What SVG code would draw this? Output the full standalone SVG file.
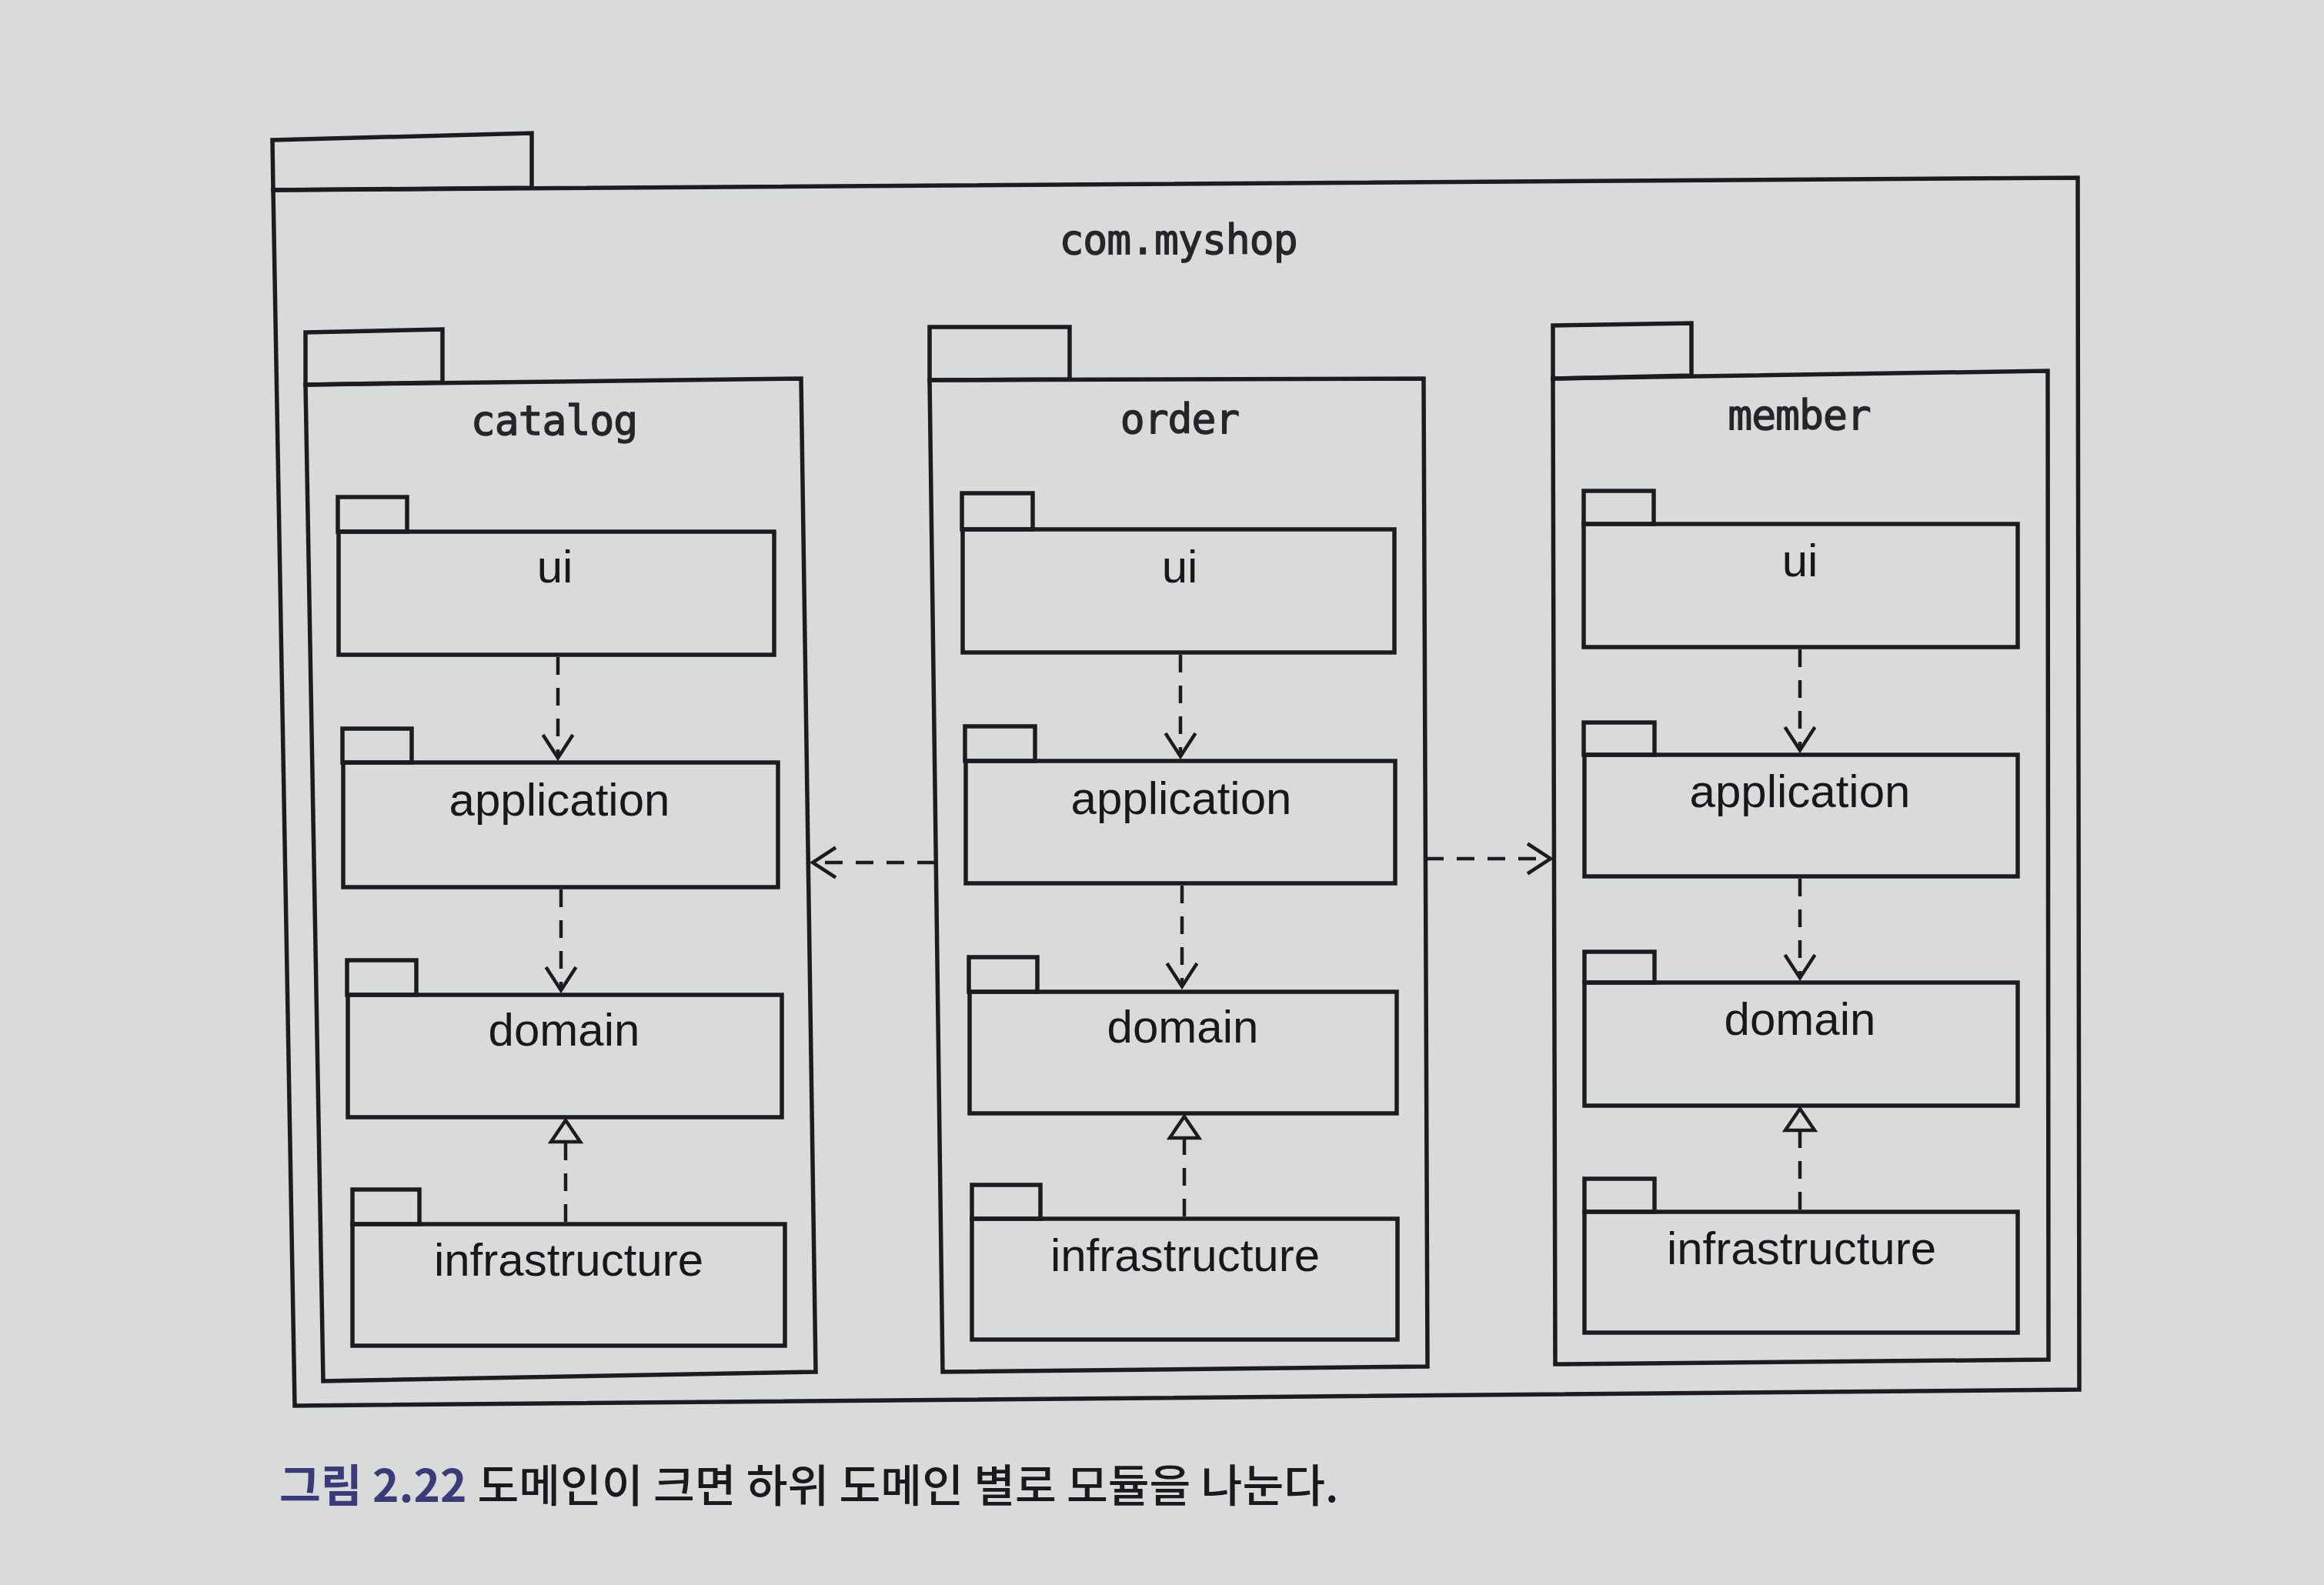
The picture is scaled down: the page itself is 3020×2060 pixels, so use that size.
<svg xmlns="http://www.w3.org/2000/svg" width="3020" height="2060" viewBox="0 0 3020 2060">
<defs>
<style>
.bg{fill:#d9dbda}
.pk{fill:none;stroke:#1c1c20;stroke-width:5.5;stroke-linejoin:miter}
.mono{font-family:"DejaVu Sans Mono","Liberation Mono",monospace;font-size:53px;letter-spacing:-1px;fill:#26262a;stroke:#26262a;stroke-width:1.3px;text-anchor:middle}
.lbl{font-family:"Liberation Sans",Arial,sans-serif;font-size:60px;fill:#18181c;text-anchor:middle}
.dep{fill:none;stroke:#1c1c20;stroke-width:4.5;stroke-dasharray:23 17}
.cap{font-family:"Noto Sans CJK KR","Noto Sans",sans-serif;font-size:58.5px}
</style>
<marker id="open" markerUnits="userSpaceOnUse" markerWidth="50" markerHeight="50" viewBox="-35 -25 40 50" refX="0" refY="0" orient="auto">
<path d="M-30,-19.5 L0,0 L-30,19.5" fill="none" stroke="#1c1c20" stroke-width="4.5"/>
</marker>
<marker id="tri" markerUnits="userSpaceOnUse" markerWidth="50" markerHeight="50" viewBox="-35 -25 40 50" refX="0" refY="0" orient="auto">
<path d="M0,0 L-28,-19 L-28,19 Z" fill="#d9dbda" stroke="#1c1c20" stroke-width="4.5" stroke-linejoin="miter"/>
</marker>
</defs>
<rect class="bg" x="0" y="0" width="3020" height="2060"/>

<g id="com.myshop">
<path class="pk" d="M354,182 L691,173 L691,244 L355,247 Z"/>
<path class="pk" d="M355,247 L2700,231 L2702,1806 L383,1827 Z"/>
<text class="mono" x="1531" y="330">com.myshop</text>
</g>

<g id="catalog">
<path class="pk" d="M397,432 L575,428 L575,497 L397,500 Z"/>
<path class="pk" d="M397,500 L1041,492 L1060,1783 L420,1795 Z"/>
<text class="mono" x="720" y="565">catalog</text>
</g>
<g id="order">
<path class="pk" d="M1208,425 L1390,425 L1390,493 L1208,494 Z"/>
<path class="pk" d="M1208,494 L1850,492 L1855,1776 L1225,1783 Z"/>
<text class="mono" x="1533" y="563">order</text>
</g>
<g id="member">
<path class="pk" d="M2018,423 L2198,420 L2198,488 L2018,492 Z"/>
<path class="pk" d="M2018,492 L2661,482 L2662,1767 L2021,1773 Z"/>
<text class="mono" x="2338" y="558">member</text>
</g>

<g id="catalog.ui">
<rect class="pk" x="439" y="646" width="90" height="45"/>
<rect class="pk" x="440" y="691" width="566" height="160"/>
<text class="lbl" x="721" y="757">ui</text>
</g>
<g id="catalog.application">
<rect class="pk" x="445" y="947" width="90" height="44"/>
<rect class="pk" x="446" y="991" width="565" height="162"/>
<text class="lbl" x="727" y="1060">application</text>
</g>
<g id="catalog.domain">
<rect class="pk" x="451" y="1248" width="90" height="45"/>
<rect class="pk" x="452" y="1293" width="564" height="159"/>
<text class="lbl" x="733" y="1359">domain</text>
</g>
<g id="catalog.infrastructure">
<rect class="pk" x="458" y="1546" width="87" height="45"/>
<rect class="pk" x="458" y="1591" width="562" height="158"/>
<text class="lbl" x="739" y="1658">infrastructure</text>
</g>

<g id="order.ui">
<rect class="pk" x="1250" y="641" width="92" height="47"/>
<rect class="pk" x="1251" y="688" width="561" height="160"/>
<text class="lbl" x="1533" y="757">ui</text>
</g>
<g id="order.application">
<rect class="pk" x="1254" y="944" width="91" height="45"/>
<rect class="pk" x="1255" y="989" width="558" height="159"/>
<text class="lbl" x="1535" y="1058">application</text>
</g>
<g id="order.domain">
<rect class="pk" x="1259" y="1244" width="89" height="45"/>
<rect class="pk" x="1260" y="1289" width="555" height="158"/>
<text class="lbl" x="1537" y="1355">domain</text>
</g>
<g id="order.infrastructure">
<rect class="pk" x="1263" y="1540" width="89" height="44"/>
<rect class="pk" x="1263" y="1584" width="553" height="157"/>
<text class="lbl" x="1540" y="1652">infrastructure</text>
</g>

<g id="member.ui">
<rect class="pk" x="2058" y="638" width="91" height="43"/>
<rect class="pk" x="2058" y="681" width="564" height="160"/>
<text class="lbl" x="2339" y="749">ui</text>
</g>
<g id="member.application">
<rect class="pk" x="2058" y="939" width="92" height="42"/>
<rect class="pk" x="2059" y="981" width="563" height="158"/>
<text class="lbl" x="2339" y="1049">application</text>
</g>
<g id="member.domain">
<rect class="pk" x="2059" y="1237" width="91" height="40"/>
<rect class="pk" x="2059" y="1277" width="563" height="160"/>
<text class="lbl" x="2339" y="1345">domain</text>
</g>
<g id="member.infrastructure">
<rect class="pk" x="2059" y="1532" width="91" height="43"/>
<rect class="pk" x="2059" y="1575" width="563" height="157"/>
<text class="lbl" x="2341" y="1643">infrastructure</text>
</g>

<g id="connectors">
<path class="dep" d="M725,854 L725,985" marker-end="url(#open)"/>
<path class="dep" d="M729,1156 L729,1287" marker-end="url(#open)"/>
<path class="dep" d="M735,1588 L735,1456" marker-end="url(#tri)"/>
<path class="dep" d="M1534,851 L1534,983" marker-end="url(#open)"/>
<path class="dep" d="M1536,1151 L1536,1282" marker-end="url(#open)"/>
<path class="dep" d="M1539,1581 L1539,1451" marker-end="url(#tri)"/>
<path class="dep" d="M2339,844 L2339,975" marker-end="url(#open)"/>
<path class="dep" d="M2339,1142 L2339,1271" marker-end="url(#open)"/>
<path class="dep" d="M2339,1572 L2339,1441" marker-end="url(#tri)"/>
<path class="dep" d="M1215,1121 L1056,1121" marker-end="url(#open)"/>
<path class="dep" d="M1853,1116 L2015,1116" marker-end="url(#open)"/>
</g>

<text class="cap" x="363" y="1952"><tspan fill="#3b3b7a" font-weight="700">그림 2.22</tspan><tspan fill="#1a1a1e" font-weight="500" dx="14">도메인이 크면 하위 도메인 별로 모듈을 나눈다.</tspan></text>
</svg>
